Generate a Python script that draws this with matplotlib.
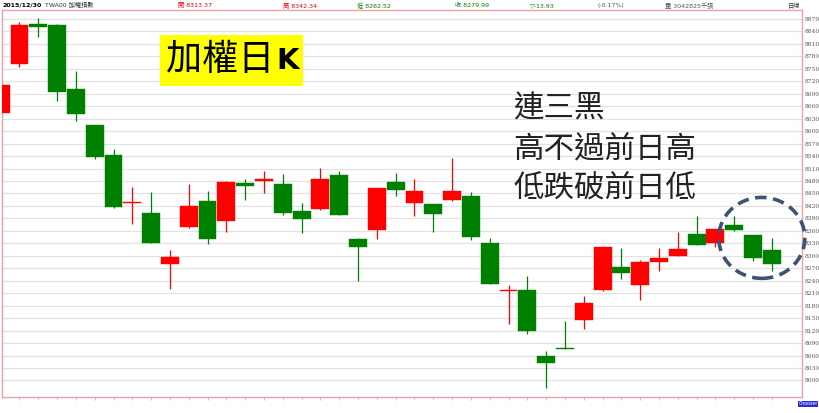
import numpy as np
import matplotlib
matplotlib.use("Agg")
import matplotlib.pyplot as plt
from matplotlib.patches import Ellipse, Rectangle

plt.rcParams['font.family'] = ['Noto Sans CJK TC', 'DejaVu Sans']

# daily OHLC, TAIEX (加權指數), late Oct 2015 -> 2015/12/30
opens = [8643, 8761, 8857, 8856, 8702, 8614, 8542, 8427, 8402, 8281,
         8370, 8432, 8384, 8474, 8481, 8472, 8408, 8412, 8494, 8341,
         8361, 8477, 8427, 8424, 8435, 8443, 8330, 8216, 8218, 8060,
         8076, 8146, 8217, 8273, 8230, 8285, 8300, 8352, 8330, 8375,
         8350, 8313.37]
highs = [8715, 8862, 8872, 8857, 8745, 8615, 8557, 8466, 8453, 8313,
         8472, 8456, 8479, 8486, 8503, 8498, 8427, 8511, 8504, 8342,
         8464, 8499, 8484, 8425, 8535, 8453, 8344, 8230, 8252, 8071,
         8142, 8204, 8322, 8318, 8290, 8318, 8358, 8396, 8365, 8396,
         8351, 8342.34]
lows = [8640, 8755, 8827, 8673, 8625, 8533, 8415, 8376, 8330, 8220,
        8368, 8329, 8358, 8435, 8451, 8398, 8354, 8410, 8398, 8240,
        8341, 8443, 8396, 8358, 8433, 8338, 8231, 8135, 8112, 7983,
        8075, 8123, 8216, 8244, 8194, 8264, 8299, 8325, 8322, 8359,
        8288, 8262.52]
closes = [8711, 8856, 8851, 8695, 8642, 8538, 8417, 8429, 8331, 8296,
          8420, 8341, 8478, 8467, 8486, 8402, 8388, 8484, 8399, 8322,
          8463, 8459, 8455, 8401, 8455, 8346, 8232, 8218, 8118, 8043,
          8075, 8186, 8321, 8259, 8284, 8294, 8316, 8326, 8364, 8361,
          8293.92, 8279.99]

yticks = list(range(8000, 8871, 30))
month_idx = 20   # first trading day of December
month_label = "12"

header = [("2015/12/30", 0.003, 'black', 'bold'),
          ("TWA00 加權指數", 0.055, '#333333', 'normal'),
          ("開 8313.37", 0.217, '#e00000', 'normal'),
          ("高 8342.34", 0.345, '#e00000', 'normal'),
          ("低 8262.52", 0.435, '#008000', 'normal'),
          ("收 8279.99", 0.555, '#008000', 'normal'),
          ("▽-13.93", 0.646, '#008000', 'normal'),
          ("(-0.17%)", 0.729, '#555555', 'normal'),
          ("量 3042825千張", 0.811, '#555555', 'normal'),
          ("日線", 0.961, '#333333', 'normal')]

RED = '#ff0000'
GREEN = '#008000'
BORDER = '#e9a3a8'

fig = plt.figure(figsize=(8.2, 4.13), dpi=100)
ax = fig.add_axes([0.0024, 0.039, 0.9756, 0.937])

x = np.arange(len(opens))
o = np.array(opens)
h = np.array(highs)
l = np.array(lows)
c = np.array(closes)
up = c >= o
cols = np.where(up, RED, GREEN)

ax.vlines(x, l, h, colors=cols, linewidth=0.9, zorder=2)
bottom = np.minimum(o, c)
height = np.maximum(np.abs(c - o), 2.4)
ax.bar(x, height, bottom=bottom, width=0.95, color=cols, zorder=3,
       edgecolor=cols, linewidth=0.3)

ax.set_xlim(0.07, 42.6)
ax.set_ylim(7960.5, 8891.7)

ax.set_yticks(yticks)
ax.yaxis.tick_right()
ax.tick_params(axis='y', length=0, pad=2, labelsize=4.3, labelcolor='#555555')
for t in ax.get_yticklabels():
    t.set_family('DejaVu Serif')
ax.grid(axis='y', color='#e2e2e2', linewidth=0.9, zorder=0)

ax.set_xticks(x[1:])
ax.set_xticklabels(["" for i in x[1:]])
ax.set_xticks([month_idx], minor=True)
ax.set_xticklabels([month_label], minor=True)
ax.tick_params(axis='x', which='major', length=2.5, color='#bbbbbb', width=0.6)
ax.tick_params(axis='x', which='minor', length=4, color='#999999', width=0.8,
               labelsize=5, pad=1, labelcolor='#444444')

for s in ax.spines.values():
    s.set_color(BORDER)
    s.set_linewidth(1.0)

# header line
for txt, xx, col, wt in header:
    fig.text(xx, 0.987, txt, fontsize=4.5, color=col, weight=wt,
             ha='left', va='center', family=['DejaVu Sans', 'Noto Sans CJK TC'])

# title box
fig.add_artist(Rectangle((0.195, 0.792), 0.174, 0.1235, transform=fig.transFigure,
                         facecolor='#ffff00', edgecolor='none', zorder=5))
fig.text(0.203, 0.855, "加權日", fontsize=26, color='black', ha='left',
         va='center', zorder=6)
fig.text(0.337, 0.853, "K", fontsize=21, color='black', weight='bold',
         ha='left', va='center', zorder=6, family='DejaVu Sans')

# annotation
fig.text(0.626, 0.737, "連三黑", fontsize=22, color='#222222', ha='left', va='center')
fig.text(0.626, 0.638, "高不過前日高", fontsize=22, color='#222222', ha='left', va='center')
fig.text(0.626, 0.541, "低跌破前日低", fontsize=22, color='#222222', ha='left', va='center')

fig.add_artist(Ellipse((0.929, 0.424), 0.105, 0.196, transform=fig.transFigure,
                       fill=False, edgecolor='#3e5372', linewidth=2.6,
                       linestyle=(0, (3.2, 1.8)), zorder=7))

fig.text(0.997, 0.022, "Chooser", fontsize=3.4, color='white', ha='right',
         va='center', family='DejaVu Sans',
         bbox=dict(boxstyle='square,pad=0.15', facecolor='#2a2ae0', edgecolor='none'))

fig.savefig("out.png", dpi=100)
